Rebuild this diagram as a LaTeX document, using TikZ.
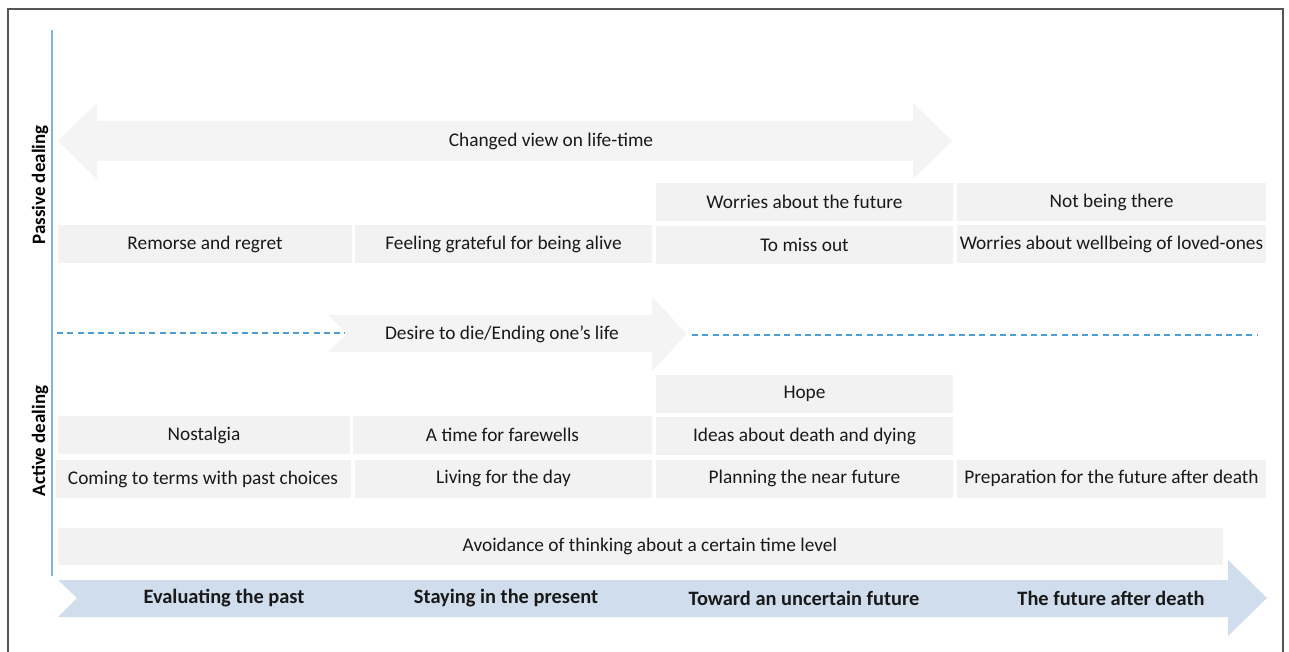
\documentclass[tikz,border=0pt]{standalone}
\usepackage{fontspec}
\setmainfont{Carlito}
\usetikzlibrary{positioning}
\definecolor{tlgray}{RGB}{242,242,242}
\definecolor{tlarrow}{RGB}{244,244,244}
\definecolor{tlblue}{RGB}{207,221,237}
\definecolor{tldash}{RGB}{75,160,215}
\definecolor{tlaxis}{RGB}{125,180,220}
\definecolor{tltext}{RGB}{25,25,25}
\definecolor{tlframe}{RGB}{85,85,85}

\begin{document}
\begin{tikzpicture}[
    x=0.75pt, y=-0.75pt,
    cell/.style={
        fill=tlgray,
        minimum height=28.5pt,
        inner sep=0pt,
        text=tltext,
        font=\fontsize{14.5}{17}\selectfont
    },
    plain/.style={text=tltext, font=\fontsize{14.5}{17}\selectfont},
    phase/.style={text=tltext, font=\fontsize{15.3}{18}\selectfont\bfseries},
    side/.style={text=black, rotate=90, font=\fontsize{14.2}{17}\selectfont\bfseries},
    dashline/.style={tldash, line width=1.1pt, dash pattern=on 4.5pt off 3.2pt}
]
\useasboundingbox (0,0) rectangle (1289,652);

% Frame and axis.
\draw[tlframe, line width=1.5pt] (8,670) -- (8,9) -- (1283,9) -- (1283,670);
\coordinate (axtop) at (52,30);
\coordinate (axbot) at (52,576);
\draw[tlaxis, line width=1.1pt] (axtop) -- (axbot);
\node[side] (passive) at (40,185) {Passive dealing};
\node[side] (active) at (40,441) {Active dealing};

% Double arrow on top.
\fill[tlarrow] (58,141) -- (97,103) -- (97,121) -- (913,121) -- (913,103)
    -- (952,141) -- (913,179) -- (913,161) -- (97,161) -- (97,179) -- cycle;
\node[plain] (lifetime) at (551,141) {Changed view on life-time};

% Passive dealing boxes.
\foreach \nm/\cx/\cy/\bw/\txt in {
    worries/804.5/202/222.75/Worries about the future,
    notthere/1111.5/202/231.75/Not being there,
    remorse/205/244.5/220.5/Remorse and regret,
    grateful/503.5/244.5/222.75/Feeling grateful for being alive,
    loved/1111.5/244.5/231.75/Worries about wellbeing of loved-ones} {
    \node[cell, minimum width=\bw pt] (\nm) at (\cx,\cy) {\txt};
}
\node[cell, minimum width=222.75pt, below=3pt of worries] (missout) {To miss out};

% Middle arrow between dashed lines.
\fill[tlarrow] (328,315) -- (652,315) -- (652,297) -- (687,334) -- (652,371)
    -- (652,352) -- (328,352) -- (347,334) -- cycle;
\node[plain] (desire) at (502,334) {Desire to die/Ending one’s life};
\coordinate (dashA) at (57,333);
\coordinate (dashB) at (345,333);
\coordinate (dashC) at (692,335);
\coordinate (dashD) at (1258,335);
\draw[dashline] (dashA) -- (dashB);
\draw[dashline] (dashC) -- (dashD);

% Active dealing boxes.
\foreach \nm/\cx/\cy/\bw/\txt in {
    hope/804.5/394/222.75/Hope,
    nostalgia/204/435/219/Nostalgia,
    farewells/502.5/435/224.25/A time for farewells,
    ideas/804.5/436/222.75/Ideas about death and dying,
    terms/203/479/221.25/Coming to terms with past choices,
    living/503.5/478.5/222.75/Living for the day,
    planning/804.5/478.5/222.75/Planning the near future,
    preparation/1111.5/478.5/231.75/Preparation for the future after death} {
    \node[cell, minimum width=\bw pt] (\nm) at (\cx,\cy) {\txt};
}
\node[cell, minimum width=873.75pt, minimum height=27.75pt] (avoid) at (640.5,546.5)
    {\hspace*{14pt}Avoidance of thinking about a certain time level};

% Time line.
\fill[tlblue] (58,580) -- (1228,580) -- (1228,560) -- (1267,598) -- (1228,636)
    -- (1228,617) -- (58,617) -- (77,598) -- cycle;
\node[phase] (past) at (224,598) {Evaluating the past};
\node[phase] (present) at (506,598) {Staying in the present};
\node[phase] (future) at (804,598) {Toward an uncertain future};
\node[phase] (after) at (1111,598) {The future after death};

\end{tikzpicture}
\end{document}
